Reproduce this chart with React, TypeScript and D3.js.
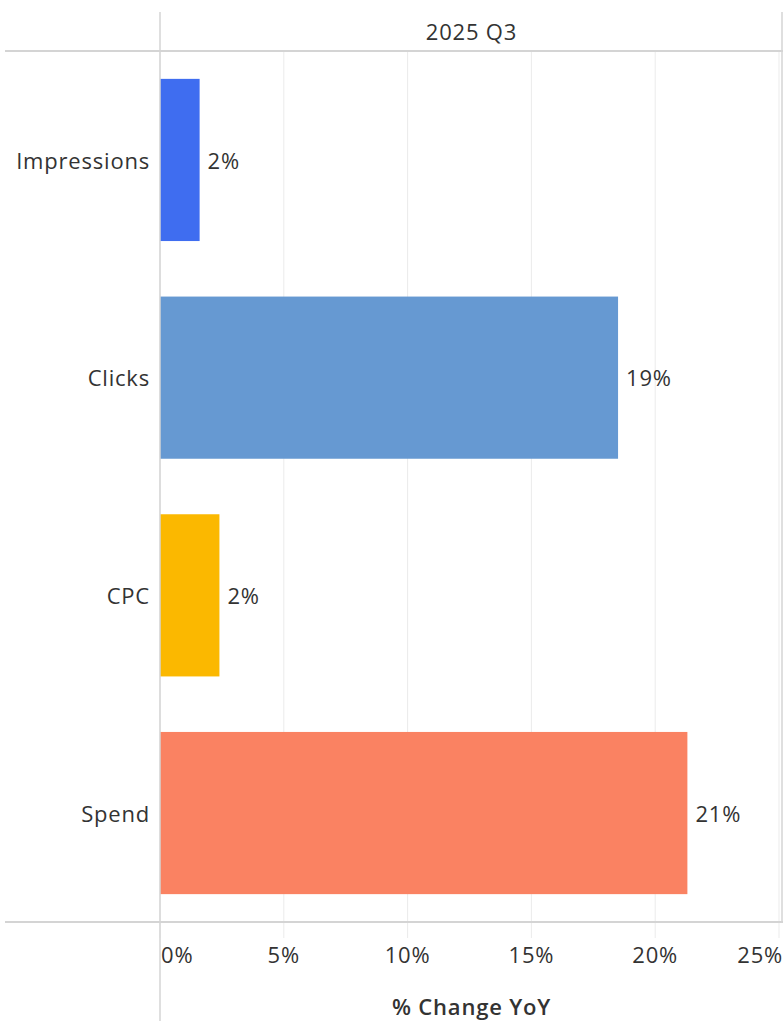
import React from "react";
import * as d3 from "d3";

const categories = ["Impressions", "Clicks", "CPC", "Spend"];
const values = [1.6, 18.5, 2.4, 21.3];
const labels = ["2%", "19%", "2%", "21%"];
const colors = ["#3f6df0", "#6699d2", "#fbb800", "#fa8262"];
const ticks = [0, 5, 10, 15, 20, 25];
const header = "2025 Q3";
const axisTitle = "% Change YoY";

export default function App() {
  const W = 783, H = 1021;
  const left = 160, right = 779;
  const top = 51, bottom = 922;
  const x = d3.scaleLinear().domain([0, 25]).range([left, right]);
  const y = d3.scaleBand<string>().domain(categories).range([top, bottom]).paddingInner(0.255).paddingOuter(0.128);
  const font = "'Open Sans', sans-serif";
  const txt = "#333";
  const fs = 22;
  const ls = 0.8;
  return (
    <svg width={W} height={H} style={{ position: "absolute", left: 0, top: 0, background: "#fff" }} fontFamily={font} letterSpacing={ls}>
      {ticks.map((t) => (
        <line key={"g" + t} x1={x(t)} x2={x(t)} y1={top} y2={bottom + 16} stroke="#ebebeb" strokeWidth={1} />
      ))}
      <line x1={782} x2={782} y1={12} y2={bottom} stroke="#d4d4d4" strokeWidth={1.5} />
      {categories.map((c, i) => (
        <g key={c}>
          <rect x={x(0)} y={y(c)} width={x(values[i]) - x(0)} height={y.bandwidth()} fill={colors[i]} />
          <text x={x(values[i]) + 8} y={y(c)! + y.bandwidth() / 2 + 1} dy="0.35em" fontSize={fs} fill={txt}>{labels[i]}</text>
          <text x={150} y={y(c)! + y.bandwidth() / 2 + 1} dy="0.35em" fontSize={fs} fill={txt} textAnchor="end">{c}</text>
        </g>
      ))}
      <line x1={5} x2={W} y1={top} y2={top} stroke="#d4d4d4" strokeWidth={2} />
      <line x1={5} x2={W} y1={bottom} y2={bottom} stroke="#d4d4d4" strokeWidth={2} />
      <line x1={left} x2={left} y1={12} y2={H} stroke="#d4d4d4" strokeWidth={1.5} />
      <text x={(left + W) / 2} y={32} dy="0.35em" textAnchor="middle" fontSize={fs} fill={txt}>{header}</text>
      {ticks.map((t, i) => (
        <text key={"t" + t} x={i === 0 ? x(t) + 1 : i === ticks.length - 1 ? W : x(t)} y={955} dy="0.35em"
          textAnchor={i === 0 ? "start" : i === ticks.length - 1 ? "end" : "middle"} fontSize={fs} fill={txt}>{t + "%"}</text>
      ))}
      <text x={(left + W) / 2} y={1007} dy="0.35em" textAnchor="middle" fontSize={fs} fontWeight={600} fill={txt}>{axisTitle}</text>
    </svg>
  );
}
